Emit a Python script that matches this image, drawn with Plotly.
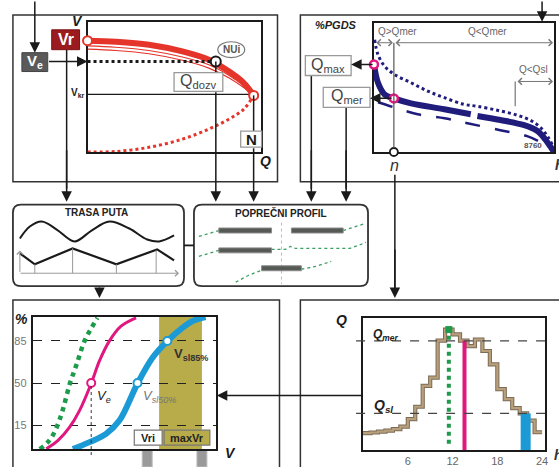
import plotly.graph_objects as go

W, H = 559, 467

# ---------------- data ----------------
# top-left panel: speed (V) vs flow (Q)
tl_flow = [0, 16.3, 35.5, 54.8, 70.1, 81.6, 90.2, 96]
tl_speed_stable = [85.5, 84.7, 82.4, 77.3, 70.9, 62, 53.2, 43.5]
tl_speed_thin1 = [81.5, 80.5, 78, 73, 67, 59, 51, 43.5]
tl_speed_thin2 = [79, 78, 75.5, 70.5, 64.5, 57, 49.5, 43.5]
tl_speed_unstable = [0, 0.4, 3.6, 9.9, 17.6, 25.2, 32.8, 43.5]
tl_Ve = 69.5
tl_Qdozv = 74.1
tl_Vkr = 44.3
tl_QN = 96
tl_Vr = 85.5

# top-right panel: duration curves (% PGDS vs hours)
tr_hours_a = [0, 194, 518, 968, 1805, 3422, 4709]
tr_pct_a = [67.7, 53.6, 44.6, 41.5, 37.7, 33.1, 29.2]
tr_hours_b = [5033, 6146, 7308, 7937, 8324, 8663, 8760]
tr_pct_b = [27.9, 24.8, 20.8, 16.4, 10, 2.3, 0]
tr_hours_dot = [34, 194, 518, 1002, 1805, 2613, 3422, 4390, 5033, 6001, 6969, 7695, 8179, 8469, 8711]
tr_pct_dot = [86.9, 75.4, 66.4, 60, 53.6, 47.2, 42.1, 36.9, 35.4, 32.3, 28.5, 23.8, 17.7, 11.5, 4.6]
tr_hours_dash = [194, 968, 2130, 3436, 4549, 6146, 7453, 8082, 8566]
tr_pct_dash = [38.5, 34.6, 29.2, 26.2, 22.3, 16.9, 12.3, 7.7, 2.3]
tr_Qmax = 67.7
tr_Qmer = 41.5
tr_n = 968
tr_nsl = 6872

# bottom-left panel: cumulative speed distributions
bl_green_v = [3.8, 9.2, 13, 16.3, 20.1, 23.9, 28.3, 32.1, 35.3]
bl_green_p = [-5, 2.4, 13.2, 27.3, 48.8, 65.4, 85.2, 96, 104.2]
bl_mag_v = [7.4, 13.8, 20.1, 25.5, 31.9, 36.4, 41.8, 48.2, 56.4]
bl_mag_p = [-4.8, 2.2, 13.2, 27, 49.6, 68.4, 84.9, 97.3, 104.2]
bl_blue_v = [21.9, 31, 40, 47.3, 57.2, 65.4, 73.5, 81.7, 87.1, 94.4]
bl_blue_p = [-5, 0.8, 7.7, 18.7, 49.6, 71.1, 84.9, 95.9, 101.4, 104.8]
bl_Ve = 31.9
bl_Vsl50 = 57.2
bl_Vsl85 = 73.5
bl_band = [69, 92.4]
bl_ticks = [15, 50, 85]

# bottom-right panel: hourly flow
br_hours = list(range(25))
br_Q = [12.8, 13.3, 14.0, 14.8, 15.8, 17.8, 23.5, 32.8, 48.6, 54.9, 82.9, 91.2,
        87.5, 82.9, 78.7, 83.7, 75.0, 64.9, 46.1, 38.6, 31.8, 27.8, 22.3, 13.5]
br_Qmer = 82.7
br_Qsl = 27.8
br_green_h = 11.5
br_mag_h = 13.6
br_blue_h = 21.8
br_xticks = [6, 12, 18, 24]

# ---------------- helpers ----------------
def X(p):
    return p / W

def Y(p):
    return 1 - p / H

FONT = "Liberation Sans, Arial, sans-serif"
BLK = "#1a1a1a"
RED = "#e5352b"
NAVY = "#201c7c"
MAG = "#e0177f"
BLUE = "#1c9ad6"
GREEN = "#1c9b4a"
OLIVE = "#b8ab4a"

shapes = []
ann = []

def rect(x0, y0, x1, y1, line="#333", lw=1.5, fill=None, layer="above"):
    shapes.append(dict(type="rect", xref="paper", yref="paper", x0=X(x0), x1=X(x1),
                       y0=Y(y1), y1=Y(y0), line=dict(color=line, width=lw),
                       fillcolor=fill if fill else "rgba(0,0,0,0)", layer=layer))

def line(x0, y0, x1, y1, color=BLK, lw=1.5, dash="solid"):
    shapes.append(dict(type="line", xref="paper", yref="paper", x0=X(x0), x1=X(x1),
                       y0=Y(y0), y1=Y(y1), line=dict(color=color, width=lw, dash=dash)))

def rrect(x0, y0, x1, y1, r=8, color="#333", lw=1.8):
    pts = lambda a, b: f"{X(a):.5f},{Y(b):.5f}"
    path = (f"M {pts(x0+r,y0)} L {pts(x1-r,y0)} Q {pts(x1,y0)} {pts(x1,y0+r)} "
            f"L {pts(x1,y1-r)} Q {pts(x1,y1)} {pts(x1-r,y1)} L {pts(x0+r,y1)} "
            f"Q {pts(x0,y1)} {pts(x0,y1-r)} L {pts(x0,y0+r)} Q {pts(x0,y0)} {pts(x0+r,y0)} Z")
    shapes.append(dict(type="path", xref="paper", yref="paper", path=path,
                       line=dict(color=color, width=lw), fillcolor="white", layer="below"))

def arrow(x0, y0, x1, y1, color=BLK, lw=1.5, size=1.4, head=2):
    ann.append(dict(x=X(x1), y=Y(y1), xref="paper", yref="paper", ax=x0 - x1, ay=y0 - y1,
                    text="", showarrow=True, arrowhead=head, arrowsize=size,
                    arrowwidth=lw, arrowcolor=color))

def darrow(x0, y0, x1, y1, color="#777"):
    ann.append(dict(x=X(x1), y=Y(y1), xref="paper", yref="paper", ax=x0 - x1, ay=y0 - y1,
                    text="", showarrow=True, arrowhead=4, startarrowhead=4, arrowsize=1.3,
                    startarrowsize=1.3, arrowside="end+start", arrowwidth=1, arrowcolor=color))

def text(x, y, s, size=12, color=BLK, xanchor="center"):
    ann.append(dict(x=X(x), y=Y(y), xref="paper", yref="paper", text=s, showarrow=False,
                    xanchor=xanchor, yanchor="middle", font=dict(family=FONT, size=size, color=color)))

# ---------------- figure ----------------
fig = go.Figure()

# top-left traces (x, y)
for sp, w in [(tl_speed_thin2, 1.2), (tl_speed_thin1, 1.2)]:
    fig.add_trace(go.Scatter(x=tl_flow, y=sp, mode="lines", line=dict(color=RED, width=w, shape="spline"),
                             xaxis="x", yaxis="y"))
fig.add_trace(go.Scatter(x=tl_flow, y=tl_speed_stable, mode="lines",
                         line=dict(color=RED, width=6, shape="spline"), xaxis="x", yaxis="y"))
fig.add_trace(go.Scatter(x=tl_flow, y=tl_speed_unstable, mode="lines",
                         line=dict(color=RED, width=3, dash="dot", shape="spline"), xaxis="x", yaxis="y"))
fig.add_trace(go.Scatter(x=[0, tl_Qdozv], y=[tl_Ve, tl_Ve], mode="lines",
                         line=dict(color=BLK, width=3, dash="dot"), xaxis="x", yaxis="y"))
fig.add_trace(go.Scatter(x=[0, tl_QN], y=[tl_Vkr, tl_Vkr], mode="lines",
                         line=dict(color=BLK, width=1.2), xaxis="x", yaxis="y"))
fig.add_trace(go.Scatter(x=[0, tl_QN], y=[tl_Vr, tl_speed_stable[-1]], mode="markers", cliponaxis=False,
                         marker=dict(size=9, color="white", line=dict(color=RED, width=2)), xaxis="x", yaxis="y"))
fig.add_trace(go.Scatter(x=[tl_Qdozv], y=[tl_Ve], mode="markers", cliponaxis=False,
                         marker=dict(size=10, color="white", line=dict(color=BLK, width=2)), xaxis="x", yaxis="y"))

# top-right traces (x2, y2)
fig.add_trace(go.Scatter(x=tr_hours_dot, y=tr_pct_dot, mode="lines",
                         line=dict(color=NAVY, width=3, dash="dot", shape="spline"), xaxis="x2", yaxis="y2"))
fig.add_trace(go.Scatter(x=tr_hours_dash, y=tr_pct_dash, mode="lines",
                         line=dict(color=NAVY, width=2.5, dash="longdash", shape="spline"), xaxis="x2", yaxis="y2"))
fig.add_trace(go.Scatter(x=tr_hours_a, y=tr_pct_a, mode="lines",
                         line=dict(color=NAVY, width=6, shape="spline"), xaxis="x2", yaxis="y2"))
fig.add_trace(go.Scatter(x=tr_hours_b, y=tr_pct_b, mode="lines",
                         line=dict(color=NAVY, width=6, shape="spline"), xaxis="x2", yaxis="y2"))
fig.add_trace(go.Scatter(x=[0, tr_n], y=[tr_Qmax, tr_Qmer], mode="markers", cliponaxis=False,
                         marker=dict(size=8, color="white", line=dict(color=MAG, width=2.5)), xaxis="x2", yaxis="y2"))
fig.add_trace(go.Scatter(x=[tr_n], y=[0], mode="markers", cliponaxis=False,
                         marker=dict(size=8, color="white", line=dict(color=BLK, width=1.8)), xaxis="x2", yaxis="y2"))

# bottom-left traces (x3, y3)
shapes.append(dict(type="rect", xref="x3", yref="y3", x0=bl_band[0], x1=bl_band[1], y0=-5, y1=105,
                   fillcolor=OLIVE, line=dict(width=0), layer="below"))
fig.add_trace(go.Scatter(x=bl_green_v, y=bl_green_p, mode="lines",
                         line=dict(color=GREEN, width=4.5, dash="dot", shape="spline"), xaxis="x3", yaxis="y3"))
fig.add_trace(go.Scatter(x=bl_mag_v, y=bl_mag_p, mode="lines",
                         line=dict(color=MAG, width=3, shape="spline"), xaxis="x3", yaxis="y3"))
fig.add_trace(go.Scatter(x=bl_blue_v, y=bl_blue_p, mode="lines",
                         line=dict(color=BLUE, width=6, shape="spline"), xaxis="x3", yaxis="y3"))
fig.add_trace(go.Scatter(x=[bl_Ve], y=[50], mode="markers",
                         marker=dict(size=8, color="white", line=dict(color=MAG, width=2)), xaxis="x3", yaxis="y3"))
fig.add_trace(go.Scatter(x=[bl_Vsl50, bl_Vsl85], y=[50, 85], mode="markers",
                         marker=dict(size=8, color="white", line=dict(color=BLUE, width=2)), xaxis="x3", yaxis="y3"))

# bottom-right traces (x4, y4)
fig.add_trace(go.Scatter(x=br_hours, y=br_Q + [br_Q[-1]], mode="lines",
                         line=dict(color="#7d6b55", width=4.2, shape="hv"), xaxis="x4", yaxis="y4"))
fig.add_trace(go.Scatter(x=br_hours, y=br_Q + [br_Q[-1]], mode="lines",
                         line=dict(color="#b8a07c", width=2.2, shape="hv"), xaxis="x4", yaxis="y4"))
fig.add_trace(go.Scatter(x=[br_green_h, br_green_h], y=[4.7, 90], mode="lines",
                         line=dict(color=GREEN, width=4, dash="dot"), xaxis="x4", yaxis="y4"))
fig.add_trace(go.Scatter(x=[br_green_h], y=[91.2], mode="markers",
                         marker=dict(symbol="square", size=7, color=GREEN), xaxis="x4", yaxis="y4"))
fig.add_trace(go.Scatter(x=[br_mag_h, br_mag_h], y=[0, br_Q[13]], mode="lines",
                         line=dict(color=MAG, width=4), xaxis="x4", yaxis="y4"))
fig.add_trace(go.Scatter(x=[br_blue_h, br_blue_h], y=[-2, br_Qsl], mode="lines", cliponaxis=False,
                         line=dict(color=BLUE, width=10), xaxis="x4", yaxis="y4"))

# canvas traces (x5, y5) : pixel space decorations
road_wave_x = [20, 30, 42, 57, 75, 92, 110, 130, 148, 160, 175]
road_wave_y = [240, 228, 223, 231, 243, 232, 223, 230, 241, 243, 237]
road_prof_x = [20, 35, 73, 117, 158, 175]
road_prof_y = [255, 266, 250, 266, 251, 262]
fig.add_trace(go.Scatter(x=road_wave_x, y=road_wave_y, mode="lines",
                         line=dict(color=BLK, width=2, shape="spline"), xaxis="x5", yaxis="y5"))
fig.add_trace(go.Scatter(x=road_prof_x, y=road_prof_y, mode="lines",
                         line=dict(color=BLK, width=2.2), xaxis="x5", yaxis="y5"))
green_rows = [
    ([200, 210, 220], [238, 235, 232]),
    ([345, 355, 367], [232, 229, 225]),
    ([200, 210, 220], [258, 255, 252]),
    ([273, 287, 292, 297, 352, 368], [251, 251, 248, 250, 250, 244]),
    ([237, 250, 263], [284, 277, 272]),
    ([303, 318, 333], [271, 268, 263]),
]
for gx, gy in green_rows:
    fig.add_trace(go.Scatter(x=gx, y=gy, mode="lines", line=dict(color="#3a9e62", width=1.3, dash="dot"),
                             xaxis="x5", yaxis="y5"))

# ---------------- shapes: frames, boxes, lines ----------------
# outer panels
rect(13, 15, 279, 183, line="#333", lw=1.5, layer="below")
rect(302, 15, 566, 183, line="#333", lw=1.5, layer="below")
rect(13, 302, 281, 472, line="#333", lw=1.5, layer="below")
rect(302, 302, 566, 472, line="#333", lw=1.5, layer="below")
rrect(13, 206, 185, 288)
rrect(195, 206, 370, 288)
line(185, 247, 195, 247, lw=1.8)

# top-left decorations
line(67, 50, 67, 190)
line(217, 62, 217, 73)
line(255, 96, 255, 132)
rect(22, 53, 48, 72, line="#444", lw=1, fill="#5a5a5a")
rect(52, 30, 80, 50, line="#7a1013", lw=1, fill="#9b1b1f")
rect(175, 73, 224, 92, line="#999", lw=1.3, fill="white")
rect(242, 132, 263, 148, line="#999", lw=1.3, fill="white")
shapes.append(dict(type="circle", xref="paper", yref="paper", x0=X(219), x1=X(246), y0=Y(58), y1=Y(42),
                   line=dict(color="#777", width=1.2), fillcolor="white"))

# top-right decorations
shapes.append(dict(type="line", xref="x2", yref="paper", x0=tr_n, x1=tr_n, y0=Y(149), y1=Y(43),
                   line=dict(color="#555", width=1.2)))
shapes.append(dict(type="line", xref="x2", yref="paper", x0=tr_nsl, x1=tr_nsl, y0=Y(107), y1=Y(82),
                   line=dict(color="#777", width=1.2)))
line(313, 76, 313, 190)
line(348, 108, 348, 190)
rect(307, 56, 353, 76, line="#999", lw=1.3, fill="white")
rect(325, 88, 372, 108, line="#999", lw=1.3, fill="white")
line(397, 176, 397, 290)

# TRASA PUTA axes/ticks
for tx, ty in [(35, 266), (73, 250), (117, 266), (157, 252)]:
    line(tx, 275, tx, ty, color="#999", lw=1)

# POPRECNI PROFIL bars
line(283, 224, 283, 286, color="#bbb", lw=1, dash="dot")
for bx0, bx1, by in [(220, 273, 232), (293, 345, 232), (220, 273, 252), (263, 303, 270)]:
    rect(bx0, by - 2.5, bx1, by + 2.5, line="#8a8a8a", lw=1, fill="#555a55")

# bottom-left decorations
shapes.append(dict(type="line", xref="x3", yref="paper", x0=bl_Ve, x1=bl_Ve, y0=Y(458), y1=Y(386),
                   line=dict(color="#333", width=1, dash="dot")))
rect(135, 433, 163, 448, line="#777", lw=1.2, fill="white")
rect(165, 433, 211, 448, line="#777", lw=1.2, fill=OLIVE)
rect(143, 453, 153, 470, line="#bbb", lw=1, fill="#9a9a9a", layer="below")
rect(198, 453, 208, 470, line="#bbb", lw=1, fill="#9a9a9a", layer="below")

# bottom-right dashed levels
for lv in [br_Qmer, br_Qsl]:
    shapes.append(dict(type="line", xref="paper", yref="y4", x0=X(358), x1=X(548), y0=lv, y1=lv,
                       line=dict(color="#444", width=1.2, dash="dash")))

# ---------------- arrows ----------------
arrow(35, 0, 35, 53)
arrow(48, 62, 88, 62)
arrow(67, 150, 67, 203)
arrow(217, 92, 217, 203)
arrow(255, 148, 255, 203)
arrow(545, 0, 545, 22)
arrow(376, 65, 353, 65)
arrow(395, 99, 372, 99)
arrow(313, 150, 313, 203)
arrow(348, 150, 348, 203)
arrow(397, 250, 397, 300)
arrow(100, 288, 100, 300)
arrow(365, 398, 218, 398)
arrow(20, 275, 20, 252, color="#999", lw=1, size=1.2, head=4)
arrow(20, 275, 180, 275, color="#999", lw=1, size=1.2, head=4)
darrow(377, 43, 395, 43)
darrow(397, 43, 556, 43)
darrow(519, 82, 556, 82)

# ---------------- texts ----------------
text(78, 21, "<b><i>V</i></b>", 14)
text(66, 40, "<b>Vr</b>", 16, "white")
text(35, 62, "<b>V<sub>e</sub></b>", 15, "white")
text(78, 94, "<b>V<sub>kr</sub></b>", 10, "#222")
text(232.5, 50, "<b>NUi</b>", 10, "#555")
text(199.5, 82, "Q<sub>dozv</sub>", 16, "#444")
text(252.5, 140, "<b>N</b>", 15)
text(267, 162, "<b><i>Q</i></b>", 14)

text(338, 25, "<b><i>%PGDS</i></b>", 11, "#222")
text(400, 32, "Q>Qmer", 10, "#666")
text(490, 32, "Q<Qmer", 10, "#666")
text(520, 70, "Q<Qsl", 10, "#666", xanchor="left")
text(330, 65.5, "Q<sub>max</sub>", 16, "#444")
text(348.5, 97.5, "Q<sub>mer</sub>", 16, "#444")
text(536, 146, "<b>8760</b>", 8, "#555")
text(397, 167, "<i>n</i>", 16, "#333")
text(556, 166, "<b><i>h</i></b>", 14, "#333", xanchor="left")

text(97, 214, "<b>TRASA PUTA</b>", 10, "#222")
text(283, 214, "<b>POPREČNI PROFIL</b>", 10, "#222")

text(22, 321, "<b><i>%</i></b>", 14)
text(105, 399, "<i>V<sub>e</sub></i>", 13, "#222")
text(160, 399, "<i>V<sub>sl50%</sub></i>", 13, "#777")
text(192, 357, "<b>V<sub>sl85%</sub></b>", 13, "#333")
text(149, 440.5, "<b>Vri</b>", 11, "#222")
text(188, 440.5, "<b>maxVr</b>", 11, "#222")
text(232, 456, "<b><i>V</i></b>", 14)

text(343, 322, "<b><i>Q</i></b>", 14)
text(388, 337, "<b><i>Q<sub>mer</sub></i></b>", 12, "#222")
text(386, 409, "<b><i>Q<sub>sl</sub></i></b>", 14, "#222")
text(555, 458, "<b><i>h</i></b>", 14, "#333", xanchor="left")

# ---------------- axes ----------------
def frame(domx, domy, rng_x, rng_y, **kw):
    ax = dict(domain=domx, range=rng_x, showgrid=False, zeroline=False, showticklabels=False,
              ticks="", showline=True, mirror=True, linecolor=BLK, linewidth=2, layer="below traces",
              fixedrange=True)
    ay = dict(domain=domy, range=rng_y, showgrid=False, zeroline=False, showticklabels=False,
              ticks="", showline=True, mirror=True, linecolor=BLK, linewidth=2, layer="below traces",
              fixedrange=True)
    return ax, ay

x1, y1 = frame([X(88), X(262)], [Y(153), Y(22)], [0, 100], [0, 100])
x2, y2 = frame([X(376), X(557)], [Y(153), Y(23)], [0, 8760], [0, 100])
x3, y3 = frame([X(33), X(217)], [Y(452), Y(319)], [0, 100], [-5, 105])
x4, y4 = frame([X(365), X(548)], [Y(453), Y(320)], [0, 24.4], [0, 100])

y3.update(showticklabels=True, tickvals=bl_ticks, tickfont=dict(family=FONT, size=11, color="#777"),
          showgrid=True, gridcolor="#222", griddash="dash", gridwidth=1, ticklabelstandoff=2)
x4.update(showticklabels=True, tickvals=br_xticks, tickfont=dict(family=FONT, size=11, color="#666"))

x5 = dict(domain=[0, 1], range=[0, W], visible=False, fixedrange=True)
y5 = dict(domain=[0, 1], range=[H, 0], visible=False, fixedrange=True)

fig.update_layout(
    width=W, height=H, margin=dict(l=0, r=0, t=0, b=0),
    paper_bgcolor="white", plot_bgcolor="rgba(0,0,0,0)", showlegend=False,
    font=dict(family=FONT),
    xaxis=dict(x1, anchor="y"), yaxis=dict(y1, anchor="x"),
    xaxis2=dict(x2, anchor="y2"), yaxis2=dict(y2, anchor="x2"),
    xaxis3=dict(x3, anchor="y3"), yaxis3=dict(y3, anchor="x3"),
    xaxis4=dict(x4, anchor="y4"), yaxis4=dict(y4, anchor="x4"),
    xaxis5=dict(x5, anchor="y5"), yaxis5=dict(y5, anchor="x5"),
    shapes=shapes, annotations=ann,
)

fig.write_html("out.html")
